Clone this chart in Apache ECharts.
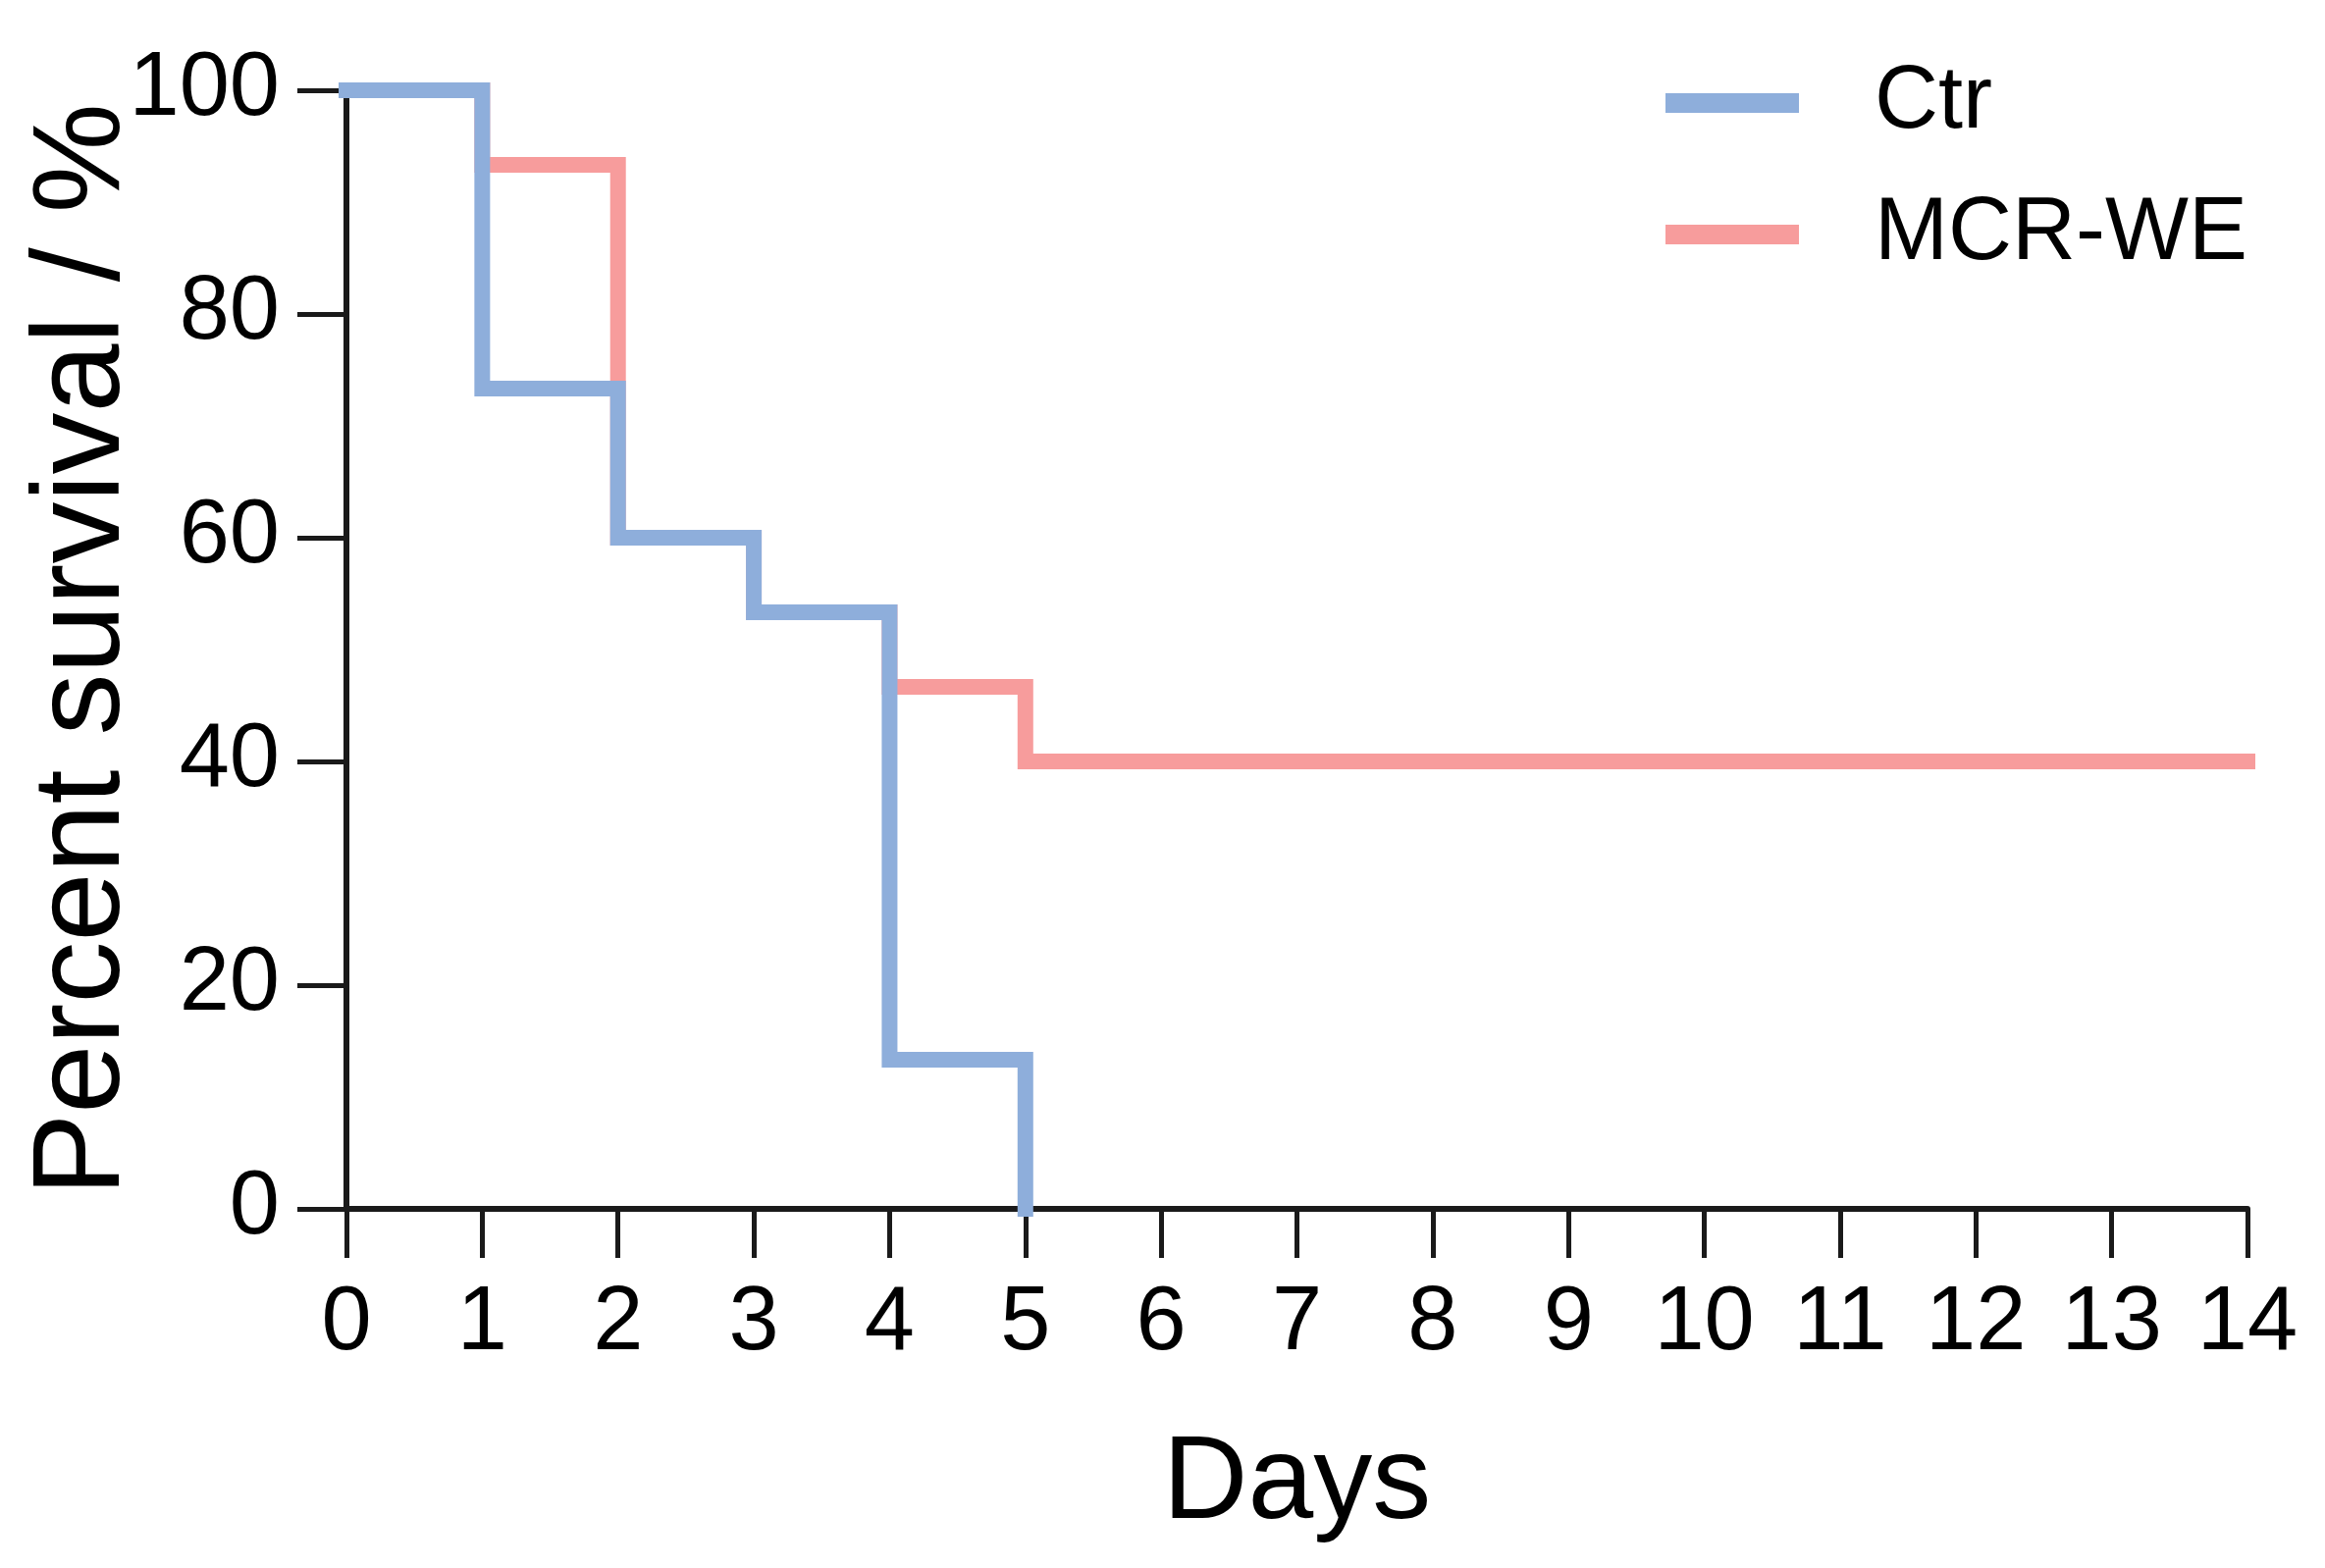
<!DOCTYPE html>
<html>
<head>
    <meta charset="UTF-8">
    <title>Percent survival</title>
    <style type="text/css">
        html, body {
            margin: 0;
            padding: 0;
            background: #ffffff;
        }
        #chart {
            width: 2369px;
            height: 1598px;
        }
    </style>
    <script src="https://cdn.jsdelivr.net/npm/echarts@6/dist/echarts.min.js"></script>
</head>
<body>
<div id="chart"></div>
<script>
    // Kaplan-Meier steps: [day, percent survival]
    const ctrDays = [0, 1, 2, 3, 4, 5];
    const ctrSurvival = [100, 73.33, 60, 53.33, 13.33, 0];
    const mcrDays = [0, 1, 2, 3, 4, 5, 14];
    const mcrSurvival = [100, 93.33, 60, 53.33, 46.67, 40, 40];
    const seriesNames = ['Ctr', 'MCR-WE'];
    const seriesColors = ['#8eaedb', '#f79c9c'];

    const font = 'Liberation Sans, Arial, sans-serif';
    let myChart = echarts.init(document.getElementById('chart'));

    function pairs(xs, ys) {
        return xs.map((x, i) => [x, ys[i]]);
    }

    let option = {
        animation: false,
        backgroundColor: '#ffffff',
        textStyle: {fontFamily: font},
        legend: {
            data: seriesNames,
            orient: 'vertical',
            left: 1692,
            top: 50,
            icon: 'rect',
            itemWidth: 136,
            itemHeight: 20,
            itemGap: 34,
            textStyle: {
                fontFamily: font,
                fontSize: 90,
                lineHeight: 100,
                color: '#000',
                padding: [0, 0, 0, 72]
            }
        },
        grid: {
            left: 353,
            right: 79,
            top: 92,
            bottom: 366,
            containLabel: false
        },
        xAxis: {
            type: 'value',
            min: 0,
            max: 14,
            interval: 1,
            name: 'Days',
            nameLocation: 'middle',
            nameGap: 222,
            nameTextStyle: {fontFamily: font, fontSize: 120, color: '#000'},
            splitLine: {show: false},
            axisLine: {lineStyle: {color: '#1a1a1a', width: 6}},
            axisTick: {length: 50, lineStyle: {color: '#1a1a1a', width: 5}},
            axisLabel: {margin: 72, fontFamily: font, fontSize: 92, color: '#000'}
        },
        yAxis: {
            type: 'value',
            min: 0,
            max: 100,
            interval: 20,
            name: 'Percent survival / %',
            nameLocation: 'middle',
            nameGap: 204,
            nameMoveOverlap: false,
            nameRotate: 90,
            nameTextStyle: {fontFamily: font, fontSize: 126, color: '#000'},
            splitLine: {show: false},
            axisLine: {show: true, lineStyle: {color: '#1a1a1a', width: 6}},
            axisTick: {show: true, length: 50, lineStyle: {color: '#1a1a1a', width: 5}},
            axisLabel: {margin: 68, fontFamily: font, fontSize: 92, color: '#000'}
        },
        series: [
            {
                name: seriesNames[1],
                type: 'line',
                step: 'end',
                symbol: 'none',
                color: seriesColors[1],
                lineStyle: {color: seriesColors[1], width: 16, cap: 'square', join: 'miter'},
                data: pairs(mcrDays, mcrSurvival)
            },
            {
                name: seriesNames[0],
                type: 'line',
                step: 'end',
                symbol: 'none',
                color: seriesColors[0],
                lineStyle: {color: seriesColors[0], width: 16, cap: 'square', join: 'miter'},
                data: pairs(ctrDays, ctrSurvival)
            }
        ]
    };
    myChart.setOption(option);
</script>
</body>
</html>
